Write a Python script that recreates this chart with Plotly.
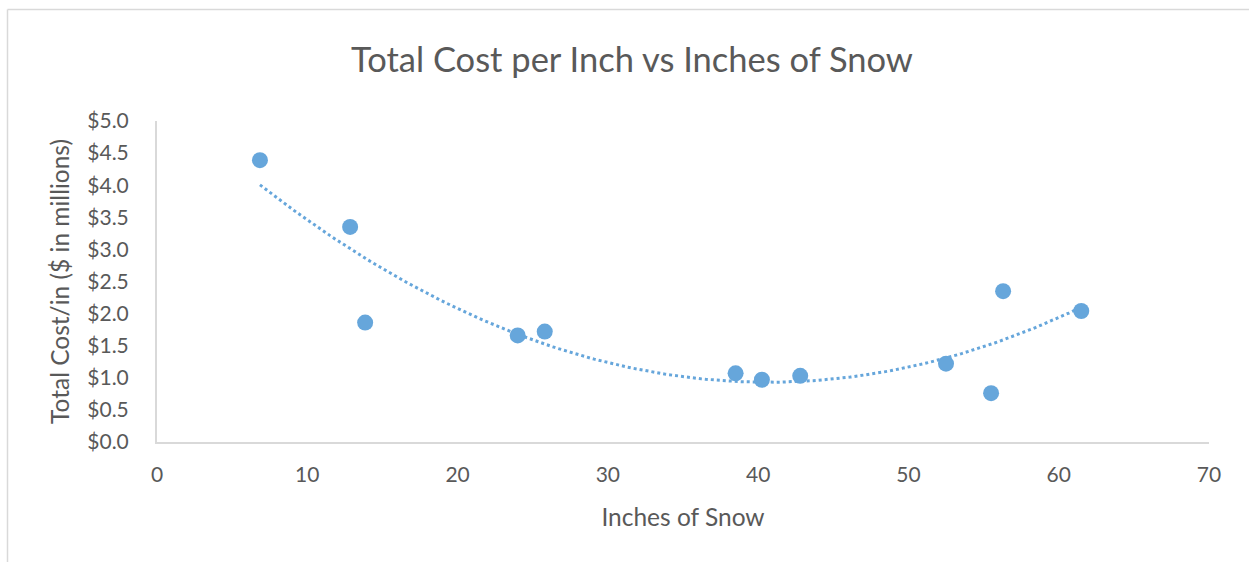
import numpy as np
import plotly.graph_objects as go

# Data
inches_of_snow = [6.85, 12.85, 13.85, 24.0, 25.8, 38.5, 40.25, 42.8, 52.5, 55.5, 56.3, 61.5]
cost_per_inch = [4.39, 3.35, 1.86, 1.66, 1.72, 1.07, 0.97, 1.03, 1.22, 0.76, 2.35, 2.04]

title_text = "Total Cost per Inch vs Inches of Snow"
x_title = "Inches of Snow"
y_title = "Total Cost/in ($ in millions)"

blue = "#66A6DB"
text_col = "#595959"
axis_col = "#D9D9D9"
font_family = "Lato, 'Open Sans', sans-serif"

# Polynomial (order 2) trendline, as Excel does
coef = np.polyfit(inches_of_snow, cost_per_inch, 2)
tx = np.linspace(min(inches_of_snow), max(inches_of_snow), 200)
ty = np.polyval(coef, tx)

fig = go.Figure()
fig.add_trace(go.Scatter(x=tx, y=ty, mode="lines",
                         line=dict(color=blue, width=3, dash="dot"),
                         hoverinfo="skip", showlegend=False))
fig.add_trace(go.Scatter(x=inches_of_snow, y=cost_per_inch, mode="markers",
                         marker=dict(color=blue, size=16),
                         showlegend=False))

W, H = 1250, 562
L, R, T, B = 157, 41, 121, 120
pw, ph = W - L - R, H - T - B

def px_x(p):
    return (p - L) / pw

def px_y(p):
    return (H - B - p) / ph

fig.update_layout(
    width=W, height=H,
    margin=dict(l=L, r=R, t=T, b=B),
    paper_bgcolor="white", plot_bgcolor="white",
    font=dict(family=font_family, color=text_col),
    title=dict(text=title_text, x=632 / W, xanchor="center",
               y=1 - 60 / H, yanchor="middle",
               font=dict(size=34.5, color=text_col, family=font_family)),
    xaxis=dict(range=[0, 70], dtick=10, tick0=0, showgrid=False, zeroline=False,
               showline=True, linecolor=axis_col, linewidth=2,
               ticks="", tickfont=dict(size=21, color=text_col),
               ticklabelstandoff=13,
               title=dict(text=x_title, font=dict(size=24.5, color=text_col), standoff=24)),
    yaxis=dict(range=[0, 5], dtick=0.5, tick0=0, showgrid=False, zeroline=False,
               showline=True, linecolor=axis_col, linewidth=2,
               ticks="", tickprefix="$", tickformat=".1f",
               tickfont=dict(size=21, color=text_col),
               ticklabelstandoff=22,
               title=dict(text=y_title, font=dict(size=24.5, color=text_col), standoff=11)),
    shapes=[
        dict(type="line", xref="paper", yref="paper",
             x0=px_x(7.5), x1=px_x(1249), y0=px_y(9.5), y1=px_y(9.5),
             line=dict(color="#D9D9D9", width=1.5)),
        dict(type="line", xref="paper", yref="paper",
             x0=px_x(7.5), x1=px_x(7.5), y0=px_y(9.5), y1=px_y(562),
             line=dict(color="#D9D9D9", width=1.5)),
    ],
)

fig.write_html("out.html", config={"displayModeBar": False},
               post_script="document.body.style.margin='0px';")
